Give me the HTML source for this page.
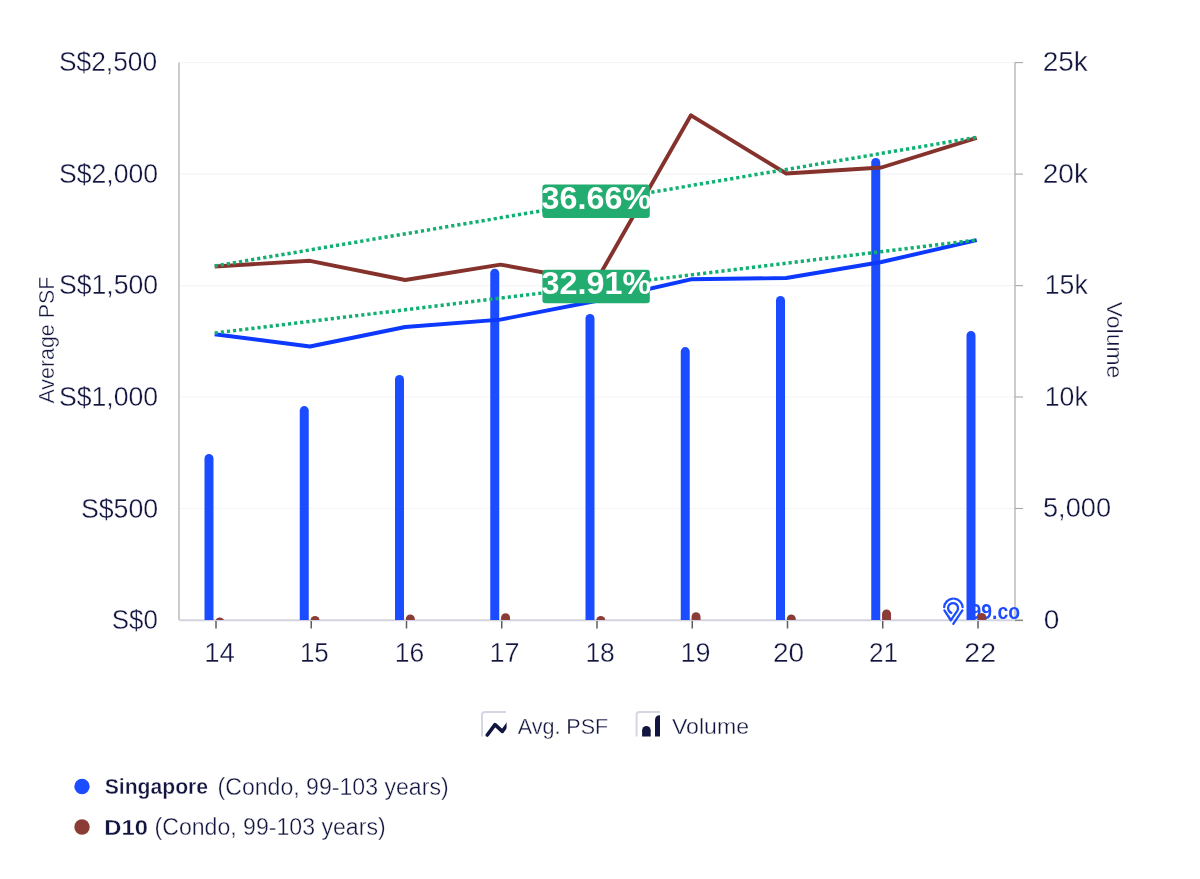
<!DOCTYPE html>
<html><head><meta charset="utf-8"><title>Chart</title>
<style>html,body{margin:0;padding:0;background:#fff;width:1200px;height:879px;overflow:hidden;position:relative;font-family:"Liberation Sans",sans-serif}</style>
</head><body>
<svg width="1200" height="879" viewBox="0 0 1200 879" style="position:absolute;left:0;top:0;will-change:transform">
<defs><clipPath id="pc"><rect x="179" y="0" width="850" height="620"/></clipPath></defs>
<line x1="180" y1="62.6" x2="1015" y2="62.6" stroke="#f5f5f5" stroke-width="1.2"/>
<line x1="180" y1="174.1" x2="1015" y2="174.1" stroke="#f5f5f5" stroke-width="1.2"/>
<line x1="180" y1="285.6" x2="1015" y2="285.6" stroke="#f5f5f5" stroke-width="1.2"/>
<line x1="180" y1="397.0" x2="1015" y2="397.0" stroke="#f5f5f5" stroke-width="1.2"/>
<line x1="180" y1="508.5" x2="1015" y2="508.5" stroke="#f5f5f5" stroke-width="1.2"/>
<line x1="179" y1="62.6" x2="179" y2="620" stroke="#cccccc" stroke-width="2"/>
<line x1="1015" y1="62.6" x2="1015" y2="620" stroke="#cccccc" stroke-width="2"/>
<line x1="1015" y1="62.6" x2="1023" y2="62.6" stroke="#a8a8a8" stroke-width="1.1"/>
<line x1="1015" y1="174.1" x2="1023" y2="174.1" stroke="#a8a8a8" stroke-width="1.1"/>
<line x1="1015" y1="285.6" x2="1023" y2="285.6" stroke="#a8a8a8" stroke-width="1.1"/>
<line x1="1015" y1="397.0" x2="1023" y2="397.0" stroke="#a8a8a8" stroke-width="1.1"/>
<line x1="1015" y1="508.5" x2="1023" y2="508.5" stroke="#a8a8a8" stroke-width="1.1"/>
<line x1="1015" y1="620.0" x2="1023" y2="620.0" stroke="#a8a8a8" stroke-width="1.1"/>
<line x1="179" y1="620.2" x2="1016" y2="620.2" stroke="#d2d3e0" stroke-width="2"/>
<line x1="1015" y1="620.5" x2="1023" y2="620.5" stroke="#888" stroke-width="1.2"/>
<line x1="216.00" y1="621" x2="216.00" y2="628.5" stroke="#5e5e5e" stroke-width="1.5"/>
<line x1="311.25" y1="621" x2="311.25" y2="628.5" stroke="#5e5e5e" stroke-width="1.5"/>
<line x1="406.50" y1="621" x2="406.50" y2="628.5" stroke="#5e5e5e" stroke-width="1.5"/>
<line x1="501.75" y1="621" x2="501.75" y2="628.5" stroke="#5e5e5e" stroke-width="1.5"/>
<line x1="597.00" y1="621" x2="597.00" y2="628.5" stroke="#5e5e5e" stroke-width="1.5"/>
<line x1="692.25" y1="621" x2="692.25" y2="628.5" stroke="#5e5e5e" stroke-width="1.5"/>
<line x1="787.50" y1="621" x2="787.50" y2="628.5" stroke="#5e5e5e" stroke-width="1.5"/>
<line x1="882.75" y1="621" x2="882.75" y2="628.5" stroke="#5e5e5e" stroke-width="1.5"/>
<line x1="978.00" y1="621" x2="978.00" y2="628.5" stroke="#5e5e5e" stroke-width="1.5"/>
<g fill="none" stroke="#1d4dff" stroke-width="2.3" stroke-linecap="round"><path d="M944.2,607.2 A9.3,9.3 0 0 1 952.6,598.6"/><path d="M954.4,598.6 A9.3,9.3 0 0 1 962.6,607.2"/><path d="M944.4,610.4 L950.7,620"/><path d="M951.3,612.8 A5,5 0 1 1 957.4,610.6 L950.9,620.2"/><path d="M962.4,610.4 L953.3,623.8"/></g>
<text x="970.5" y="619" font-family="Liberation Sans" font-weight="bold" font-size="22.5" fill="#1d4dff" textLength="49.5" lengthAdjust="spacingAndGlyphs">99.co</text>
<g clip-path="url(#pc)">
<path d="M204.50,620.5 L204.50,458.50 A4.5,4.5 0 0 1 213.50,458.50 L213.50,620.5 Z" fill="#1c4cff"/>
<path d="M299.75,620.5 L299.75,410.60 A4.5,4.5 0 0 1 308.75,410.60 L308.75,620.5 Z" fill="#1c4cff"/>
<path d="M395.00,620.5 L395.00,379.50 A4.5,4.5 0 0 1 404.00,379.50 L404.00,620.5 Z" fill="#1c4cff"/>
<path d="M490.25,620.5 L490.25,273.20 A4.5,4.5 0 0 1 499.25,273.20 L499.25,620.5 Z" fill="#1c4cff"/>
<path d="M585.50,620.5 L585.50,318.50 A4.5,4.5 0 0 1 594.50,318.50 L594.50,620.5 Z" fill="#1c4cff"/>
<path d="M680.75,620.5 L680.75,351.60 A4.5,4.5 0 0 1 689.75,351.60 L689.75,620.5 Z" fill="#1c4cff"/>
<path d="M776.00,620.5 L776.00,300.40 A4.5,4.5 0 0 1 785.00,300.40 L785.00,620.5 Z" fill="#1c4cff"/>
<path d="M871.25,620.5 L871.25,162.50 A4.5,4.5 0 0 1 880.25,162.50 L880.25,620.5 Z" fill="#1c4cff"/>
<path d="M966.50,620.5 L966.50,335.50 A4.5,4.5 0 0 1 975.50,335.50 L975.50,620.5 Z" fill="#1c4cff"/>
<path d="M215.30,620.5 L215.30,622.00 A4.5,4.5 0 0 1 224.30,622.00 L224.30,620.5 Z" fill="#8c3c36"/>
<path d="M310.55,620.5 L310.55,620.50 A4.5,4.5 0 0 1 319.55,620.50 L319.55,620.5 Z" fill="#8c3c36"/>
<path d="M405.80,620.5 L405.80,619.00 A4.5,4.5 0 0 1 414.80,619.00 L414.80,620.5 Z" fill="#8c3c36"/>
<path d="M501.05,620.5 L501.05,617.70 A4.5,4.5 0 0 1 510.05,617.70 L510.05,620.5 Z" fill="#8c3c36"/>
<path d="M596.30,620.5 L596.30,620.50 A4.5,4.5 0 0 1 605.30,620.50 L605.30,620.5 Z" fill="#8c3c36"/>
<path d="M691.55,620.5 L691.55,616.70 A4.5,4.5 0 0 1 700.55,616.70 L700.55,620.5 Z" fill="#8c3c36"/>
<path d="M786.80,620.5 L786.80,619.00 A4.5,4.5 0 0 1 795.80,619.00 L795.80,620.5 Z" fill="#8c3c36"/>
<path d="M882.05,620.5 L882.05,613.90 A4.5,4.5 0 0 1 891.05,613.90 L891.05,620.5 Z" fill="#8c3c36"/>
<path d="M977.30,620.5 L977.30,617.40 A4.5,4.5 0 0 1 986.30,617.40 L986.30,620.5 Z" fill="#8c3c36"/>
</g>
<polyline points="214.70,266.50 309.95,260.80 405.20,280.00 500.45,264.60 595.70,282.00 690.95,115.30 786.20,173.50 881.45,167.50 976.70,137.90" fill="none" stroke="#86322c" stroke-width="3.9" stroke-linejoin="round"/>
<polyline points="214.70,334.20 309.95,346.50 405.20,327.00 500.45,319.60 595.70,301.00 690.95,279.30 786.20,278.00 881.45,262.00 976.70,240.20" fill="none" stroke="#0c38ff" stroke-width="3.9" stroke-linejoin="round"/>
<line x1="214.70" y1="266" x2="976.70" y2="137.3" stroke="#0fb072" stroke-width="3.5" stroke-dasharray="3.2 2.95"/>
<line x1="214.70" y1="333" x2="976.70" y2="240" stroke="#0fb072" stroke-width="3.5" stroke-dasharray="3.2 2.95"/>
<rect x="542.4" y="184.6" width="107.4" height="33.4" rx="3" fill="#22ac70"/>
<text x="541.6" y="209.2" font-family="Liberation Sans" font-weight="bold" font-size="31" fill="#fff" textLength="109.5" lengthAdjust="spacingAndGlyphs">36.66%</text>
<rect x="542.4" y="269.8" width="107.4" height="33.4" rx="3" fill="#22ac70"/>
<text x="541.6" y="294.4" font-family="Liberation Sans" font-weight="bold" font-size="31" fill="#fff" textLength="109.5" lengthAdjust="spacingAndGlyphs">32.91%</text>
<text x="59.00" y="71.20" font-family="Liberation Sans" font-size="28" font-weight="normal" fill="#12153f" stroke="#fff" stroke-width="0.35" textLength="98.13" lengthAdjust="spacingAndGlyphs">S$2,500</text>
<text x="59.00" y="182.60" font-family="Liberation Sans" font-size="28" font-weight="normal" fill="#12153f" stroke="#fff" stroke-width="0.35" textLength="99.17" lengthAdjust="spacingAndGlyphs">S$2,000</text>
<text x="59.00" y="294.20" font-family="Liberation Sans" font-size="28" font-weight="normal" fill="#12153f" stroke="#fff" stroke-width="0.35" textLength="99.17" lengthAdjust="spacingAndGlyphs">S$1,500</text>
<text x="59.00" y="405.60" font-family="Liberation Sans" font-size="28" font-weight="normal" fill="#12153f" stroke="#fff" stroke-width="0.35" textLength="99.17" lengthAdjust="spacingAndGlyphs">S$1,000</text>
<text x="80.90" y="517.50" font-family="Liberation Sans" font-size="28" font-weight="normal" fill="#12153f" stroke="#fff" stroke-width="0.35" textLength="77.35" lengthAdjust="spacingAndGlyphs">S$500</text>
<text x="111.80" y="628.80" font-family="Liberation Sans" font-size="28" font-weight="normal" fill="#12153f" stroke="#fff" stroke-width="0.35" textLength="46.05" lengthAdjust="spacingAndGlyphs">S$0</text>
<text x="1042.70" y="71.30" font-family="Liberation Sans" font-size="28" font-weight="normal" fill="#12153f" stroke="#fff" stroke-width="0.35" textLength="45.16" lengthAdjust="spacingAndGlyphs">25k</text>
<text x="1042.75" y="182.70" font-family="Liberation Sans" font-size="28" font-weight="normal" fill="#12153f" stroke="#fff" stroke-width="0.35" textLength="45.16" lengthAdjust="spacingAndGlyphs">20k</text>
<text x="1044.75" y="293.80" font-family="Liberation Sans" font-size="28" font-weight="normal" fill="#12153f" stroke="#fff" stroke-width="0.35" textLength="43.01" lengthAdjust="spacingAndGlyphs">15k</text>
<text x="1044.75" y="405.50" font-family="Liberation Sans" font-size="28" font-weight="normal" fill="#12153f" stroke="#fff" stroke-width="0.35" textLength="43.01" lengthAdjust="spacingAndGlyphs">10k</text>
<text x="1043.00" y="517.30" font-family="Liberation Sans" font-size="28" font-weight="normal" fill="#12153f" stroke="#fff" stroke-width="0.35" textLength="68.00" lengthAdjust="spacingAndGlyphs">5,000</text>
<text x="1043.70" y="628.90" font-family="Liberation Sans" font-size="28" font-weight="normal" fill="#12153f" stroke="#fff" stroke-width="0.35" textLength="15.58" lengthAdjust="spacingAndGlyphs">0</text>
<text x="204.30" y="662.30" font-family="Liberation Sans" font-size="27" font-weight="normal" fill="#12153f" stroke="#fff" stroke-width="0.35" textLength="30.62" lengthAdjust="spacingAndGlyphs">14</text>
<text x="299.90" y="662.30" font-family="Liberation Sans" font-size="27" font-weight="normal" fill="#12153f" stroke="#fff" stroke-width="0.35" textLength="28.89" lengthAdjust="spacingAndGlyphs">15</text>
<text x="394.70" y="662.30" font-family="Liberation Sans" font-size="27" font-weight="normal" fill="#12153f" stroke="#fff" stroke-width="0.35" textLength="29.47" lengthAdjust="spacingAndGlyphs">16</text>
<text x="489.60" y="662.30" font-family="Liberation Sans" font-size="27" font-weight="normal" fill="#12153f" stroke="#fff" stroke-width="0.35" textLength="30.07" lengthAdjust="spacingAndGlyphs">17</text>
<text x="585.40" y="662.30" font-family="Liberation Sans" font-size="27" font-weight="normal" fill="#12153f" stroke="#fff" stroke-width="0.35" textLength="29.47" lengthAdjust="spacingAndGlyphs">18</text>
<text x="680.50" y="662.30" font-family="Liberation Sans" font-size="27" font-weight="normal" fill="#12153f" stroke="#fff" stroke-width="0.35" textLength="30.07" lengthAdjust="spacingAndGlyphs">19</text>
<text x="773.00" y="662.30" font-family="Liberation Sans" font-size="27" font-weight="normal" fill="#12153f" stroke="#fff" stroke-width="0.35" textLength="31.18" lengthAdjust="spacingAndGlyphs">20</text>
<text x="869.00" y="662.30" font-family="Liberation Sans" font-size="27" font-weight="normal" fill="#12153f" stroke="#fff" stroke-width="0.35" textLength="29.20" lengthAdjust="spacingAndGlyphs">21</text>
<text x="964.25" y="662.30" font-family="Liberation Sans" font-size="27" font-weight="normal" fill="#12153f" stroke="#fff" stroke-width="0.35" textLength="31.80" lengthAdjust="spacingAndGlyphs">22</text>
<text x="517.70" y="734.20" font-family="Liberation Sans" font-size="22.5" font-weight="normal" fill="#12153f" stroke="#fff" stroke-width="0.35" textLength="90.53" lengthAdjust="spacingAndGlyphs">Avg. PSF</text>
<text x="671.90" y="733.90" font-family="Liberation Sans" font-size="22.5" font-weight="normal" fill="#12153f" stroke="#fff" stroke-width="0.35" textLength="77.12" lengthAdjust="spacingAndGlyphs">Volume</text>
<text x="104.70" y="794.40" font-family="Liberation Sans" font-size="22.3" font-weight="bold" fill="#12153f" stroke="#fff" stroke-width="0.35" textLength="103.43" lengthAdjust="spacingAndGlyphs">Singapore</text>
<text x="217.50" y="794.50" font-family="Liberation Sans" font-size="23" font-weight="normal" fill="#12153f" stroke="#fff" stroke-width="0.35" textLength="231.14" lengthAdjust="spacingAndGlyphs">(Condo, 99-103 years)</text>
<text x="104.30" y="834.60" font-family="Liberation Sans" font-size="22.3" font-weight="bold" fill="#12153f" stroke="#fff" stroke-width="0.35" textLength="43.61" lengthAdjust="spacingAndGlyphs">D10</text>
<text x="154.50" y="834.50" font-family="Liberation Sans" font-size="23" font-weight="normal" fill="#12153f" stroke="#fff" stroke-width="0.35" textLength="231.14" lengthAdjust="spacingAndGlyphs">(Condo, 99-103 years)</text>
<text transform="translate(54.3,340.1) rotate(-90)" text-anchor="middle" font-family="Liberation Sans" font-size="22.5" fill="#12153f" stroke="#fff" stroke-width="0.35" textLength="127" lengthAdjust="spacingAndGlyphs">Average PSF</text>
<text transform="translate(1107,340) rotate(90)" text-anchor="middle" font-family="Liberation Sans" font-size="22.5" fill="#12153f" stroke="#fff" stroke-width="0.35" textLength="76.5" lengthAdjust="spacingAndGlyphs">Volume</text>
<path d="M482,736.5 L482,715 Q482,712 485,712 L506,712" fill="none" stroke="#d5d6e4" stroke-width="2"/>
<clipPath id="ic1"><rect x="480" y="700" width="26.6" height="40"/></clipPath>
<path clip-path="url(#ic1)" d="M487.3,735 L495,724.6 L502.3,731.4 L510,721" fill="none" stroke="#12153f" stroke-width="3.6" stroke-linecap="round" stroke-linejoin="round"/>
<path d="M636.6,736.5 L636.6,715 Q636.6,712 639.6,712 L660,712" fill="none" stroke="#d5d6e4" stroke-width="2"/>
<path d="M642.1,736.6 L642.1,730.2 A4.3,4.3 0 0 1 650.7,730.2 L650.7,736.6 Z" fill="#12153f"/>
<path d="M655,736.6 L655,720 Q655,715.2 660,715.2 L660,736.6 Z" fill="#12153f"/>
<circle cx="82" cy="786.5" r="7.7" fill="#1c4cff"/>
<circle cx="82" cy="827" r="7.7" fill="#8c3c36"/>
</svg>
</body></html>
